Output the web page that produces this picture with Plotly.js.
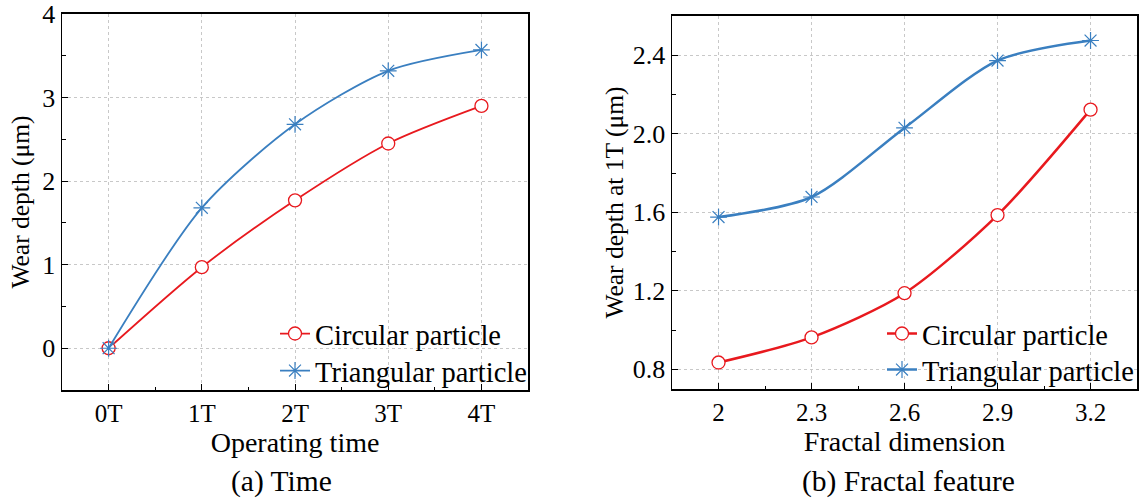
<!DOCTYPE html>
<html><head><meta charset="utf-8">
<script src="https://cdn.plot.ly/plotly-3.0.1.min.js"></script>
<style>html,body{margin:0;padding:0;background:#fff}#chart{width:1140px;height:499px}</style>
</head><body><div id="chart"></div>
<script>
// (a) Time
const timeCats = [0, 1, 2, 3, 4];
const timeTickLabels = ['0T', '1T', '2T', '3T', '4T'];
const circularTime = [0, 0.97, 1.77, 2.45, 2.90];
const triangularTime = [0, 1.68, 2.68, 3.32, 3.57];
// (b) Fractal feature
const fractalDim = [2, 2.3, 2.6, 2.9, 3.2];
const fractalTickLabels = ['2', '2.3', '2.6', '2.9', '3.2'];
const circularFractal = [0.835, 0.963, 1.188, 1.586, 2.123];
const triangularFractal = [1.576, 1.678, 2.03, 2.373, 2.475];

const RED = '#e8191e', BLUE = '#3a7fc0';
const FONT = 'Liberation Serif';

const traces = [
  {x: timeCats, y: circularTime, name: 'Circular particle', mode: 'lines+markers', xaxis: 'x', yaxis: 'y', legend: 'legend',
   line: {color: RED, width: 1.8, shape: 'spline', smoothing: 0.8},
   marker: {symbol: 'circle', size: 13, color: '#fff', line: {color: RED, width: 1.3}}},
  {x: timeCats, y: triangularTime, name: 'Triangular particle', mode: 'lines+markers', xaxis: 'x', yaxis: 'y', legend: 'legend2',
   line: {color: BLUE, width: 1.8, shape: 'spline', smoothing: 0.8},
   marker: {symbol: 'asterisk-open', size: 14, color: BLUE, line: {color: BLUE, width: 1.2}}},
  {x: fractalDim, y: circularFractal, name: 'Circular particle', mode: 'lines+markers', xaxis: 'x2', yaxis: 'y2', legend: 'legend3',
   line: {color: RED, width: 2.5, shape: 'spline', smoothing: 0.8},
   marker: {symbol: 'circle', size: 13, color: '#fff', line: {color: RED, width: 1.3}}},
  {x: fractalDim, y: triangularFractal, name: 'Triangular particle', mode: 'lines+markers', xaxis: 'x2', yaxis: 'y2', legend: 'legend4',
   line: {color: BLUE, width: 2.5, shape: 'spline', smoothing: 0.8},
   marker: {symbol: 'asterisk-open', size: 14, color: BLUE, line: {color: BLUE, width: 1.2}}}
];

const axisCommon = {
  showline: true, linecolor: '#000', linewidth: 1.5, mirror: true,
  ticks: 'inside', ticklen: 6, tickwidth: 1, tickcolor: '#000',
  showgrid: true, gridcolor: '#c8c8c8', griddash: 'dot', gridwidth: 1,
  zeroline: false, automargin: false,
  minor: {ticks: 'inside', ticklen: 3.5, tickcolor: '#000', showgrid: false}
};
const xTickFont = {family: FONT, size: 25, color: '#000'};
const yTickFont = {family: FONT, size: 26, color: '#000'};
const xTitleFont = {family: FONT, size: 28, color: '#000'};
const yTitleFont = {family: FONT, size: 25.5, color: '#000'};
const capFont = {family: FONT, size: 29.5, color: '#000'};
const legFont = {family: FONT, size: 28.5, color: '#000'};

function leg(xpx, ypx) {
  return {x: xpx / 1140, y: 1 - ypx / 499, xanchor: 'left', yanchor: 'middle',
    bgcolor: 'rgba(0,0,0,0)', font: legFont, itemwidth: 30};
}

const layout = {
  width: 1140, height: 499,
  margin: {l: 0, r: 0, t: 0, b: 0},
  paper_bgcolor: '#fff', plot_bgcolor: '#fff',
  font: {family: FONT, color: '#000', size: 26},
  showlegend: true,
  xaxis: Object.assign({}, axisCommon, {
    domain: [0.0544, 0.4632], anchor: 'y', range: [-0.5, 4.5],
    tickvals: timeCats, ticktext: timeTickLabels, tickfont: xTickFont,
    minor: Object.assign({}, axisCommon.minor, {dtick: 0.5, tick0: -0.5}),
    title: {text: 'Operating time', font: xTitleFont, standoff: 0}
  }),
  yaxis: Object.assign({}, axisCommon, {
    domain: [0.2184, 0.972], anchor: 'x', range: [-0.5, 4],
    tickvals: [0, 1, 2, 3, 4], tickfont: yTickFont,
    minor: Object.assign({}, axisCommon.minor, {dtick: 0.5, tick0: 0}),
    title: {text: 'Wear depth (μm)', font: yTitleFont, standoff: 5}
  }),
  xaxis2: Object.assign({}, axisCommon, {
    domain: [0.5895, 0.9974], anchor: 'y2', range: [1.85, 3.35],
    tickvals: fractalDim, ticktext: fractalTickLabels, tickfont: xTickFont,
    minor: Object.assign({}, axisCommon.minor, {dtick: 0.15, tick0: 1.85}),
    title: {text: 'Fractal dimension', font: xTitleFont, standoff: 0}
  }),
  yaxis2: Object.assign({}, axisCommon, {
    domain: [0.2204, 0.968], anchor: 'x2', range: [0.7, 2.6],
    tickvals: [0.8, 1.2, 1.6, 2.0, 2.4], ticktext: ['0.8', '1.2', '1.6', '2.0', '2.4'], tickfont: yTickFont,
    minor: Object.assign({}, axisCommon.minor, {dtick: 0.2, tick0: 0.8}),
    title: {text: 'Wear depth at 1T (μm)', font: yTitleFont, standoff: 2}
  }),
  legend: leg(275, 334),
  legend2: leg(275, 371),
  legend3: leg(882, 334),
  legend4: leg(882, 370),
  annotations: [
    {text: '(a) Time', x: 281, y: 481, xref: 'paper', yref: 'paper', showarrow: false, font: capFont},
    {text: '(b) Fractal feature', x: 908, y: 481, xref: 'paper', yref: 'paper', showarrow: false, font: capFont}
  ]
};
layout.annotations.forEach(a => { a.x = a.x / 1140; a.y = 1 - a.y / 499; a.xanchor = 'center'; a.yanchor = 'middle'; });

Plotly.newPlot('chart', traces, layout, {displayModeBar: false, staticPlot: true});
</script></body></html>
